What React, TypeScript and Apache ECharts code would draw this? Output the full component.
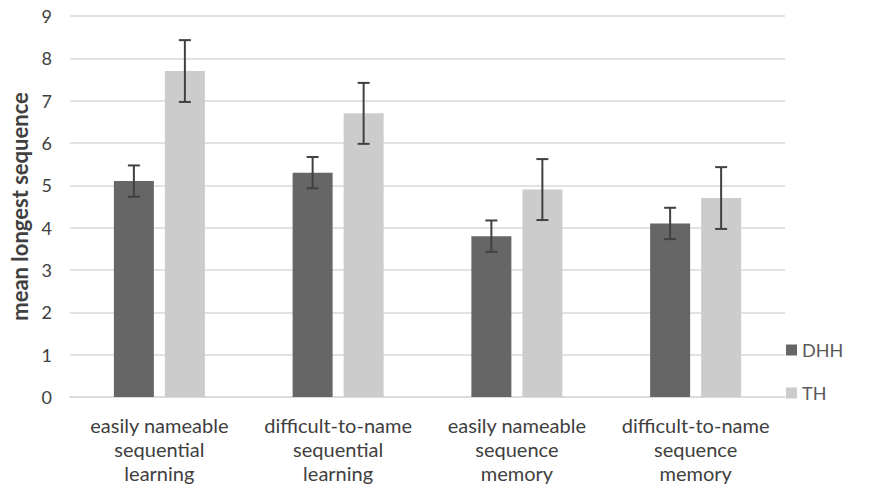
import React, { useEffect, useRef } from "react";
import * as echarts from "echarts";

const categories = [
  "easily nameable\nsequential\nlearning",
  "difficult-to-name\nsequential\nlearning",
  "easily nameable\nsequence\nmemory",
  "difficult-to-name\nsequence\nmemory",
];
const dhhMeans = [5.1, 5.3, 3.8, 4.1];
const dhhErrors = [0.37, 0.37, 0.37, 0.37];
const thMeans = [7.7, 6.7, 4.9, 4.7];
const thErrors = [0.73, 0.72, 0.72, 0.73];
const seriesNames = ["DHH", "TH"];

const FONT = "Lato, 'Open Sans', sans-serif";
const BAR_W = 40;
const BAR_GAP = 11;

function errorSeries(name: string, means: number[], errs: number[], side: number) {
  return {
    type: "custom",
    name: name + "_err",
    silent: true,
    z: 10,
    data: means.map((m, i) => [i, m - errs[i], m + errs[i]]),
    renderItem: (params: any, api: any) => {
      const x0 = api.coord([api.value(0), 0])[0] + side * (BAR_W + BAR_GAP) / 2;
      const lo = api.coord([api.value(0), api.value(1)])[1];
      const hi = api.coord([api.value(0), api.value(2)])[1];
      const cap = 6;
      const style = { stroke: "#404040", lineWidth: 2 };
      return {
        type: "group",
        children: [
          { type: "line", shape: { x1: x0, y1: lo, x2: x0, y2: hi }, style },
          { type: "line", shape: { x1: x0 - cap, y1: lo, x2: x0 + cap, y2: lo }, style },
          { type: "line", shape: { x1: x0 - cap, y1: hi, x2: x0 + cap, y2: hi }, style },
        ],
      };
    },
  };
}

export default function App() {
  const ref = useRef<HTMLDivElement>(null);
  useEffect(() => {
    document.body.style.margin = "0";
    const chart = echarts.init(ref.current!, undefined, { renderer: "svg" });
    chart.setOption({
      animation: false,
      backgroundColor: "#ffffff",
      grid: { left: 65, right: 90, top: 16, bottom: 93 },
      legend: {
        orient: "vertical",
        left: 781,
        top: 336,
        itemWidth: 11,
        itemHeight: 11,
        itemGap: 25,
        icon: "rect",
        data: seriesNames,
        textStyle: { fontFamily: FONT, fontSize: 18, color: "#595959" },
      },
      xAxis: {
        type: "category",
        data: categories,
        axisLine: { lineStyle: { color: "#d9d9d9", width: 1.5 } },
        axisTick: { show: false },
        axisLabel: {
          fontFamily: FONT,
          fontSize: 20,
          color: "#404040",
          lineHeight: 24,
          margin: 16,
          interval: 0,
        },
      },
      yAxis: {
        type: "value",
        min: 0,
        max: 9,
        interval: 1,
        name: "mean longest sequence",
        nameLocation: "middle",
        nameGap: 40,
        nameTextStyle: { fontFamily: FONT, fontSize: 22, fontWeight: "bold", color: "#404040" },
        axisLine: { show: false },
        axisTick: { show: false },
        splitLine: { lineStyle: { color: "#d9d9d9", width: 1.5 } },
        axisLabel: { fontFamily: FONT, fontSize: 18, color: "#404040", margin: 18 },
      },
      series: [
        {
          name: seriesNames[0],
          type: "bar",
          data: dhhMeans,
          barWidth: BAR_W,
          barGap: (BAR_GAP / BAR_W) * 100 + "%",
          itemStyle: { color: "#666666" },
        },
        {
          name: seriesNames[1],
          type: "bar",
          data: thMeans,
          barWidth: BAR_W,
          barGap: (BAR_GAP / BAR_W) * 100 + "%",
          itemStyle: { color: "#cccccc" },
        },
        errorSeries(seriesNames[0], dhhMeans, dhhErrors, -1),
        errorSeries(seriesNames[1], thMeans, thErrors, 1),
      ],
    });
    return () => chart.dispose();
  }, []);
  return <div ref={ref} style={{ width: 875, height: 490 }} />;
}
